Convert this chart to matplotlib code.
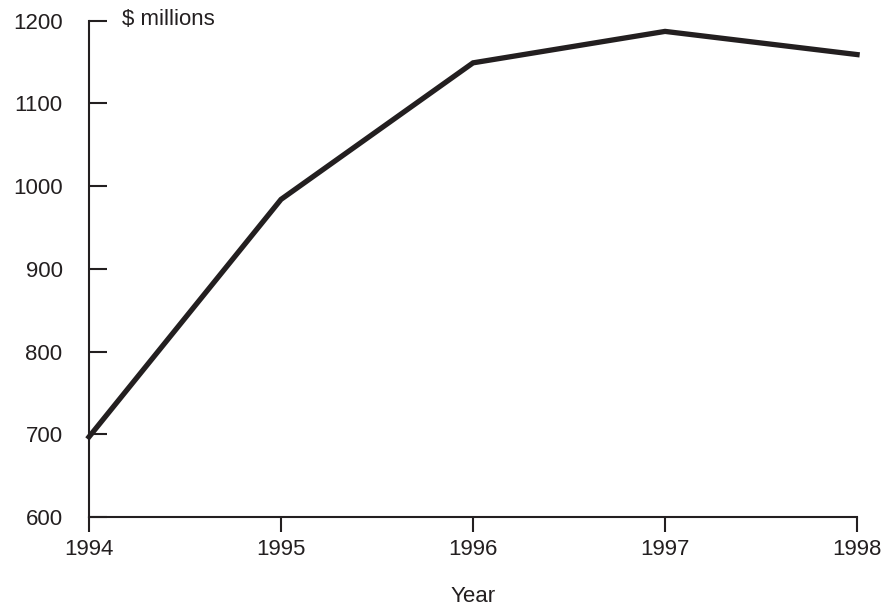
import matplotlib
matplotlib.use("Agg")
import matplotlib.pyplot as plt

years = [1994, 1995, 1996, 1997, 1998]
values = [697, 984, 1149, 1187, 1159]
y_ticks = [600, 700, 800, 900, 1000, 1100, 1200]

plt.rcParams["font.family"] = ["Liberation Sans", "DejaVu Sans"]
ink = "#231f20"
fs = 16

fig = plt.figure(figsize=(8.9, 6.07), dpi=100)
ax = fig.add_axes([0.1, 0.148, 0.863, 0.818])

ax.plot(years, values, color=ink, linewidth=3.8, solid_joinstyle="miter",
        clip_on=False, zorder=3)

ax.set_xlim(1994, 1998)
ax.set_ylim(600, 1200)
ax.set_xticks(years)
ax.set_yticks(y_ticks)

for side in ["top", "right"]:
    ax.spines[side].set_visible(False)
for side in ["left", "bottom"]:
    ax.spines[side].set_color(ink)
    ax.spines[side].set_linewidth(1.5)

ax.tick_params(axis="y", direction="in", length=13, width=1.5, color=ink,
               labelsize=fs, labelcolor=ink, pad=19)
ax.tick_params(axis="x", direction="out", length=11, width=1.5, color=ink,
               labelsize=fs, labelcolor=ink, pad=5)

fig.text(0.531, 1 - 597 / 607, "Year", fontsize=fs, color=ink,
         ha="center", va="center")
fig.text(0.137, 0.968, "$ millions", fontsize=fs, color=ink,
         ha="left", va="center")

fig.savefig("out.png", dpi=100)
